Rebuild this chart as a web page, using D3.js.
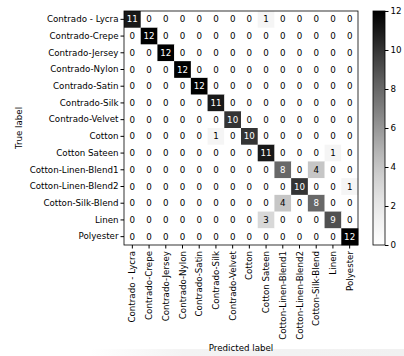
<!DOCTYPE html>
<html>
<head>
<meta charset="utf-8">
<script src="https://cdn.jsdelivr.net/npm/d3@7"></script>
<style>
  body { margin: 0; background: #fff; }
  text { font-family: "DejaVu Sans", sans-serif; }
</style>
</head>
<body>
<div id="chart"></div>
<script>
// class names, same order on both axes
var labels = ["Contrado - Lycra", "Contrado-Crepe", "Contrado-Jersey", "Contrado-Nylon",
  "Contrado-Satin", "Contrado-Silk", "Contrado-Velvet", "Cotton", "Cotton Sateen",
  "Cotton-Linen-Blend1", "Cotton-Linen-Blend2", "Cotton-Silk-Blend", "Linen", "Polyester"];

// rows = true label, cols = predicted label
var counts = [
  [11, 0, 0, 0, 0, 0, 0, 0, 1, 0, 0, 0, 0, 0],
  [0, 12, 0, 0, 0, 0, 0, 0, 0, 0, 0, 0, 0, 0],
  [0, 0, 12, 0, 0, 0, 0, 0, 0, 0, 0, 0, 0, 0],
  [0, 0, 0, 12, 0, 0, 0, 0, 0, 0, 0, 0, 0, 0],
  [0, 0, 0, 0, 12, 0, 0, 0, 0, 0, 0, 0, 0, 0],
  [0, 0, 0, 0, 0, 11, 0, 0, 0, 0, 0, 0, 0, 0],
  [0, 0, 0, 0, 0, 0, 10, 0, 0, 0, 0, 0, 0, 0],
  [0, 0, 0, 0, 0, 1, 0, 10, 0, 0, 0, 0, 0, 0],
  [0, 0, 0, 0, 0, 0, 0, 0, 11, 0, 0, 0, 1, 0],
  [0, 0, 0, 0, 0, 0, 0, 0, 0, 8, 0, 4, 0, 0],
  [0, 0, 0, 0, 0, 0, 0, 0, 0, 0, 10, 0, 0, 1],
  [0, 0, 0, 0, 0, 0, 0, 0, 0, 4, 0, 8, 0, 0],
  [0, 0, 0, 0, 0, 0, 0, 0, 3, 0, 0, 0, 9, 0],
  [0, 0, 0, 0, 0, 0, 0, 0, 0, 0, 0, 0, 0, 12]
];

var colorTicks = [0, 2, 4, 6, 8, 10, 12];

var W = 404, H = 356;
var mLeft = 124, mTop = 11, side = 234;
var fs = 8.7;

var svg = d3.select("#chart").append("svg").attr("width", W).attr("height", H);
var defs = svg.append("defs");

// faint grey band along the bottom edge, as in the screenshot
var band = defs.append("linearGradient").attr("id", "band")
  .attr("x1", 0).attr("y1", 0).attr("x2", 1).attr("y2", 0);
band.append("stop").attr("offset", 0).attr("stop-color", "#fff");
band.append("stop").attr("offset", 0.3).attr("stop-color", "#f3f3f3");
band.append("stop").attr("offset", 1).attr("stop-color", "#f1f1f1");
svg.append("rect").attr("x", 90).attr("y", 349).attr("width", W - 90).attr("height", 7)
  .attr("fill", "url(#band)");

var x = d3.scaleBand().domain(d3.range(labels.length)).range([mLeft, mLeft + side]);
var y = d3.scaleBand().domain(d3.range(labels.length)).range([mTop, mTop + side]);
var color = d3.scaleSequential(d3.interpolateGreys).domain([0, 12]);

var cells = [];
counts.forEach(function(row, i) {
  row.forEach(function(v, j) { cells.push({ r: i, c: j, v: v }); });
});

svg.selectAll(".cell")
  .data(cells)
  .enter()
  .append("rect")
  .attr("class", "cell")
  .attr("x", function(d) { return x(d.c); })
  .attr("y", function(d) { return y(d.r); })
  .attr("width", x.bandwidth() + 0.3)
  .attr("height", y.bandwidth() + 0.3)
  .attr("fill", function(d) { return color(d.v); });

svg.selectAll(".val")
  .data(cells)
  .enter()
  .append("text")
  .attr("class", "val")
  .attr("x", function(d) { return x(d.c) + x.bandwidth() / 2; })
  .attr("y", function(d) { return y(d.r) + y.bandwidth() / 2; })
  .attr("dy", "0.35em")
  .attr("text-anchor", "middle")
  .attr("font-size", fs)
  .attr("fill", function(d) { return d.v > 6 ? "#fff" : "#000"; })
  .text(function(d) { return d.v; });

// axes
var yAxis = d3.axisLeft(y).tickSize(3.5).tickPadding(2).tickFormat(function(i) { return labels[i]; });
var gy = svg.append("g").attr("transform", "translate(" + mLeft + ",0)").call(yAxis);
gy.select(".domain").remove();
gy.selectAll("text").attr("font-size", fs).attr("font-family", "DejaVu Sans").attr("fill", "#000");

var xAxis = d3.axisBottom(x).tickSize(3.5).tickPadding(2).tickFormat(function(i) { return labels[i]; });
var gx = svg.append("g").attr("transform", "translate(0," + (mTop + side) + ")").call(xAxis);
gx.select(".domain").remove();
gx.selectAll("text")
  .attr("font-size", fs)
  .attr("font-family", "DejaVu Sans")
  .attr("fill", "#000")
  .attr("transform", "rotate(-90)")
  .attr("text-anchor", "end")
  .attr("x", -6)
  .attr("y", 0)
  .attr("dy", "0.35em");

svg.append("rect")
  .attr("x", mLeft).attr("y", mTop).attr("width", side).attr("height", side)
  .attr("fill", "none").attr("stroke", "#000").attr("stroke-width", 0.8);

svg.append("text")
  .attr("transform", "translate(22," + (mTop + side / 2) + ") rotate(-90)")
  .attr("text-anchor", "middle")
  .attr("font-size", fs)
  .text("True label");

svg.append("text")
  .attr("x", mLeft + side / 2)
  .attr("y", 351)
  .attr("text-anchor", "middle")
  .attr("font-size", fs)
  .text("Predicted label");

// colorbar
var cbX = 373, cbW = 12;
var cy = d3.scaleLinear().domain([0, 12]).range([mTop + side, mTop]);
var grad = defs.append("linearGradient").attr("id", "cbgrad")
  .attr("x1", 0).attr("y1", 1).attr("x2", 0).attr("y2", 0);
d3.range(0, 1.001, 0.1).forEach(function(t) {
  grad.append("stop").attr("offset", t).attr("stop-color", d3.interpolateGreys(t));
});
svg.append("rect")
  .attr("x", cbX).attr("y", mTop).attr("width", cbW).attr("height", side)
  .attr("fill", "url(#cbgrad)").attr("stroke", "#000").attr("stroke-width", 0.8);

var cAxis = d3.axisRight(cy).tickValues(colorTicks).tickSize(3.5).tickPadding(2);
var gc = svg.append("g").attr("transform", "translate(" + (cbX + cbW) + ",0)").call(cAxis);
gc.select(".domain").remove();
gc.selectAll("text").attr("font-size", fs).attr("font-family", "DejaVu Sans").attr("fill", "#000");
</script>
</body>
</html>
